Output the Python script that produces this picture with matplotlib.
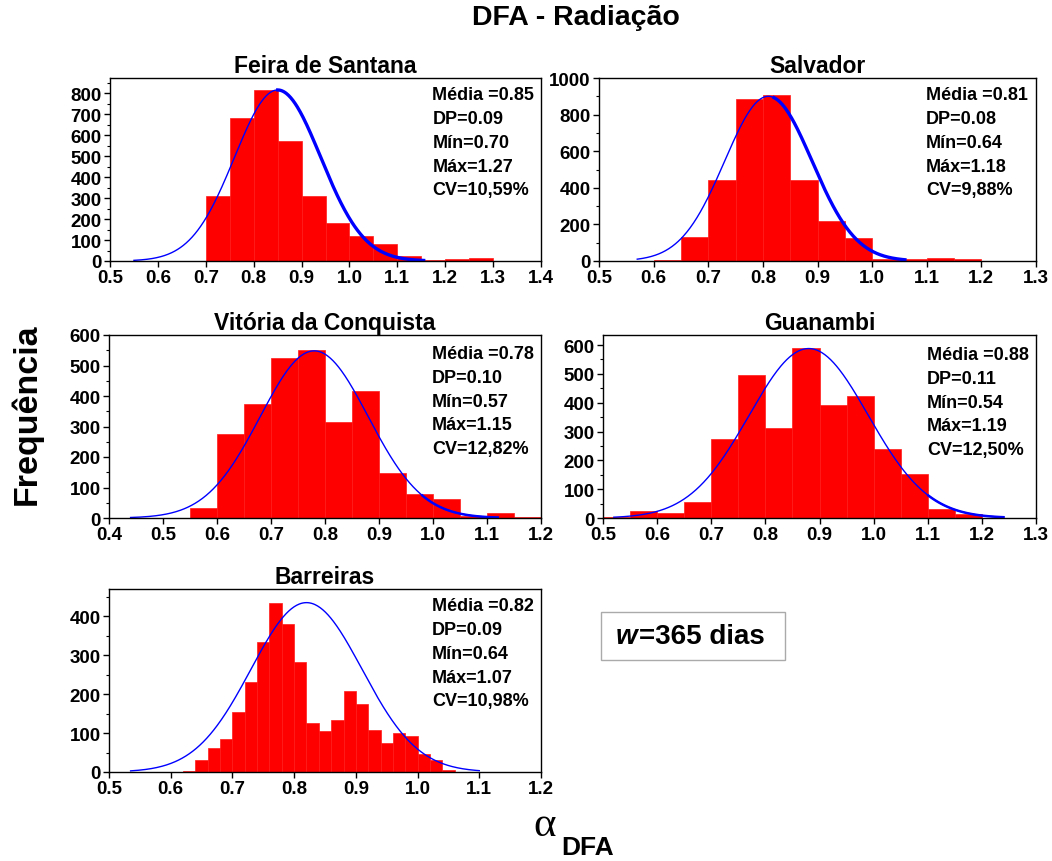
import numpy as np
import matplotlib.pyplot as plt

plt.rcParams['font.family'] = ['Liberation Sans', 'DejaVu Sans']
plt.rcParams['font.weight'] = 'bold'

# histogram counts per station (bin start, bin width, counts)
feira_start, feira_width = 0.70, 0.05
feira_counts = [310, 680, 815, 570, 310, 180, 120, 80, 25, 5, 8, 12]

salvador_start, salvador_width = 0.60, 0.05
salvador_counts = [5, 130, 440, 885, 905, 440, 220, 125, 10, 10, 15, 10]

vitoria_start, vitoria_width = 0.55, 0.05
vitoria_counts = [32, 275, 375, 525, 550, 315, 415, 148, 80, 62, 5, 17, 2]

guanambi_start, guanambi_width = 0.50, 0.05
guanambi_counts = [2, 23, 17, 55, 273, 495, 312, 590, 392, 422, 240, 152, 32, 15]

barreiras_start, barreiras_width = 0.62, 0.02
barreiras_counts = [3, 30, 62, 85, 155, 230, 335, 435, 380, 283, 125, 105,
                    133, 208, 175, 107, 75, 100, 92, 47, 32, 5]

# summary statistics
names = ['Feira de Santana', 'Salvador', 'Vitória da Conquista', 'Guanambi', 'Barreiras']
media = [0.85, 0.81, 0.78, 0.88, 0.82]
dp = [0.09, 0.08, 0.10, 0.11, 0.09]
minimo = [0.70, 0.64, 0.57, 0.54, 0.64]
maximo = [1.27, 1.18, 1.15, 1.19, 1.07]
cv = ['10,59', '9,88', '12,82', '12,50', '10,98']

# normal fit: peak height and drawn range
fit_peak = [815, 900, 548, 588, 435]
fit_range = [(0.55, 1.155), (0.57, 1.06), (0.44, 1.12), (0.52, 1.24), (0.535, 1.10)]
fit_thick_from = [0.85, 0.82, 0.98, 1.10, None]

xlims = [(0.5, 1.4), (0.5, 1.3), (0.4, 1.2), (0.5, 1.3), (0.5, 1.2)]
ylims = [(0, 872), (0, 1000), (0, 600), (0, 635), (0, 470)]
ystep = [100, 200, 100, 100, 100]
ymax_tick = [800, 1000, 600, 600, 400]

hists = [(feira_start, feira_width, feira_counts),
         (salvador_start, salvador_width, salvador_counts),
         (vitoria_start, vitoria_width, vitoria_counts),
         (guanambi_start, guanambi_width, guanambi_counts),
         (barreiras_start, barreiras_width, barreiras_counts)]

W, H = 1052, 862
# axes boxes in pixels: left, right, top, bottom
boxes = [(110, 541, 79, 262), (599, 1036, 79, 262),
         (109, 541, 336, 519), (603, 1036, 336, 519),
         (109, 541, 590, 773)]
stat_y = [0.955, 0.955, 0.945, 0.94, 0.955]

fig = plt.figure(figsize=(W / 100, H / 100), dpi=100)

for i in range(5):
    l, r, t, b = boxes[i]
    ax = fig.add_axes([l / W, 1 - b / H, (r - l) / W, (b - t) / H])
    start, width, counts = hists[i]
    edges = start + width * np.arange(len(counts))
    ax.bar(edges, counts, width=width, align='edge', color='#ff0000',
           edgecolor='#ff1a1a', linewidth=0.5)

    lo, hi = fit_range[i]
    x = np.linspace(lo, hi, 400)
    y = fit_peak[i] * np.exp(-0.5 * ((x - media[i]) / dp[i]) ** 2)
    ax.plot(x, y, color='#0000ff', lw=1.0)
    if fit_thick_from[i] is not None:
        m = x >= fit_thick_from[i]
        ax.plot(x[m], y[m], color='#0000ff', lw=2.4 if i < 2 else 1.8)

    xt = np.arange(xlims[i][0], xlims[i][1] + 0.001, 0.1)
    ax.set_xlim(*xlims[i])
    ax.set_ylim(*ylims[i])
    ax.set_xticks(xt)
    ax.set_xticklabels(['%.1f' % v for v in xt])
    ax.set_yticks(np.arange(0, ymax_tick[i] + 1, ystep[i]))
    ax.set_yticks(np.arange(ystep[i] / 2, ylims[i][1], ystep[i]), minor=True)
    ax.tick_params(axis='both', which='major', direction='out', length=4,
                   width=1, labelsize=13.5, pad=2)
    ax.tick_params(axis='y', which='minor', direction='out', length=2.5, width=0.8)
    for lab in ax.get_xticklabels() + ax.get_yticklabels():
        lab.set_fontweight('bold')
    for s in ax.spines.values():
        s.set_linewidth(1.0)

    ax.set_title(names[i], fontsize=16.5, fontweight='bold', pad=4)
    stats = ('Média =%.2f\nDP=%.2f\nMín=%.2f\nMáx=%.2f\nCV=%s%%'
             % (media[i], dp[i], minimo[i], maximo[i], cv[i]))
    ax.text(0.748, stat_y[i], stats, transform=ax.transAxes, ha='left', va='top',
            fontsize=13, fontweight='bold', linespacing=1.52)

fig.text(576 / W, 1 - 18 / H, 'DFA - Radiação', ha='center', va='center',
         fontsize=20.5, fontweight='bold')
fig.text(27 / W, 1 - 414 / H, 'Frequência', rotation=90, ha='center', va='center',
         fontsize=24.5, fontweight='bold')
fig.text(545 / W, 1 - 826 / H, 'α', ha='center', va='center', fontsize=31,
         family=['Liberation Serif', 'DejaVu Serif'], fontweight='normal')
fig.text(561 / W, 1 - 848 / H, 'DFA', ha='left', va='center', fontsize=19,
         fontweight='bold')

# window length label: italic w followed by the rest, inside a grey box
w_txt = fig.text(616 / W, 1 - 637 / H, 'w', ha='left', va='center', fontsize=20,
                 fontweight='bold', style='italic')
fig.canvas.draw()
bb = w_txt.get_window_extent()
fig.text((bb.x1 + 1) / W, 1 - 637 / H, '=365 dias', ha='left', va='center',
         fontsize=20, fontweight='bold')
fig.patches.append(plt.Rectangle((601 / W, 1 - 661 / H), 184 / W, 48 / H,
                                 transform=fig.transFigure, fill=False,
                                 edgecolor='#aaaaaa', linewidth=1.0))

fig.savefig('out.png', dpi=100, facecolor='white')
